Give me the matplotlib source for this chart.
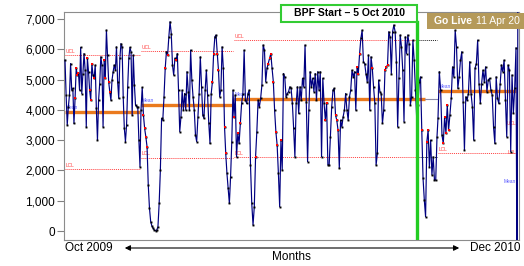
import numpy as np
import matplotlib
matplotlib.use('Agg')
import matplotlib.pyplot as plt
from matplotlib.patches import Rectangle, FancyArrowPatch

plt.rcParams['font.family'] = ['Liberation Sans', 'DejaVu Sans']

# ---------------- data ----------------
phase1 = [5640, 4490, 3500, 4100, 4490, 5530, 4650, 4710, 3550, 4380,
          5370, 5150, 5230, 4650, 6060, 4540, 5200, 5860, 5310, 3440,
          5700, 5260, 4650, 4320, 5530, 5150, 5040, 5480, 4050, 3000,
          4320, 4870, 5750, 5480, 3440, 5640, 5040, 6630, 5810, 4930,
          4600, 4320, 4980, 5260, 5480, 5310, 6080, 4930, 4380, 5700,
          6190, 6080, 4430, 3390, 2950, 3500, 4760, 5700, 6060, 5920,
          3830, 5810, 4820, 4160, 4100, 4100, 3000, 2120]
phase1_red = [9, 10, 11, 12, 20, 22, 23, 24, 26, 35, 36, 39, 40]

phase2 = [3990, 4740, 3830, 3390, 3110, 2780, 1520, 750, 310, 165,
          90, 30, 10, 30, 140, 910, 2010, 3720, 3660, 4430,
          5370, 5920, 5810, 6410, 6910, 6520, 5480, 5150, 5700, 5640,
          5860, 4650, 3280, 3770, 4650, 3990, 4540, 3990, 5260, 4600,
          3990, 5970, 4980, 4430, 3990, 3170, 2950, 3770, 4540, 5750,
          4760, 3830, 3720, 4650, 5310, 4490, 3550, 2890, 4540, 4930,
          5860, 6410, 6470, 5860, 5310, 4430, 4650, 6080, 5370, 3440,
          2560, 1900, 1410, 910, 1790, 2950, 4650]
phase2_red = [2, 3, 4, 5, 20, 22, 29, 59, 60, 63, 64, 69, 70]

phase3 = [3770, 4490, 2450, 3220, 2890, 3550, 4210, 4540, 5970, 4320,
          4210, 4540, 4650, 2180, 910, 200, 800, 2450, 3280, 4320,
          4100, 4380, 4820, 6140, 5970, 4930, 5370, 5530, 5700, 5860,
          5370, 4930, 3990, 3280, 2840, 1900, 800, 3000, 2010, 5200,
          5090, 4430, 4540, 4600, 4760, 4710, 4210, 3390, 2450, 4210,
          4760, 3880, 4760, 4320, 5040, 4760, 6140, 4270, 2290, 3990,
          5260, 4760, 5040, 4600, 5200, 4320, 5260, 4650, 5260, 2450,
          5040, 4210, 3660, 4210, 2180, 2180, 3110, 4100, 4650, 4710,
          3830, 3660, 3330, 2070, 3660, 3440, 3770, 3990, 4540, 3990,
          3660, 4430, 4650, 5310, 5090, 5260, 3990, 5420, 5200, 5860,
          6360, 6630, 5590, 5530, 5200, 4930, 5810, 3990, 5750, 5370,
          4760, 4210, 2180, 2560, 4980, 4600, 4540, 3550, 3990, 5310,
          5420, 5480, 6580, 6410, 5200, 6580, 6800, 6580, 5590, 3440,
          5040, 6470, 6080, 5310, 3610, 6410, 5860, 6470, 6190, 4160,
          4430, 6300, 5640, 4650, 3720, 4160, 4930, 5090, 3330, 1740,
          1020, 470, 2950, 3330, 2120, 3000, 1850, 2450, 1680, 1680,
          3110]
phase3_red = [0, 3, 5, 17, 27, 28, 29, 31, 33, 34, 37, 72, 73, 80, 81, 82,
              97, 98, 99, 109, 119, 120, 121, 148, 152, 153]

phase4 = [3720, 5260, 4650, 3170, 2890, 3770, 3220, 4160, 3330, 3830,
          4380, 5420, 5090, 6630, 6080, 4710, 5090, 5640, 5920, 4270,
          2670, 4430, 4320, 4540, 5590, 4540, 4100, 3000, 5370, 5530,
          6300, 4870, 4210, 4870, 5310, 4930, 5420, 4600, 4980, 5040,
          4650, 4490, 3440, 2890, 5090, 4380, 4210, 4870, 5480, 5260,
          5640, 4320, 3110, 5480, 5310, 2620, 5150, 3880, 4710, 6050]
phase4_red = [4, 5, 6, 7, 8]

tail_values = [-2000, 9000]          # off-scale values at the right edge

phases = [phase1, phase2, phase3, phase4]
phases_red = [phase1_red, phase2_red, phase3_red, phase4_red]
phase_start_day = [0, 76, 169, 373]
phase_end_day = [75, 168, 372, 451]
phase_mean = [3940, 4160, 4370, 4630]
phase_ucl = [5810, 5940, 6300, None]   # last UCL hidden behind the Go Live box
phase_lcl = [2040, 2420, 2450, 2560]
bpf_day = 352
next_labels = [("UCL", 3560), ("LCL", 2600), ("Mean", 1640)]
yticks = [0, 1000, 2000, 3000, 4000, 5000, 6000, 7000]

# ---------------- figure ----------------
W, H = 524, 266
fig = plt.figure(figsize=(W / 100, H / 100), dpi=100)
ax = fig.add_axes([64 / W, 1 - 240 / H, 455 / W, 228 / H])
ax.set_xlim(-1, 454)
ax.set_ylim(-297, 7231)

navy = '#000080'
orange = '#ea7a1e'
redl = '#ff4040'
bluel = '#5a5aff'
dots = (0, (1, 1))

xs, ys, rx, ry = [], [], [], []
for vals, reds, s, e in zip(phases, phases_red, phase_start_day, phase_end_day):
    x = np.linspace(s, e, len(vals))
    xs.append(x)
    ys.append(np.array(vals, dtype=float))
    rx.extend(x[reds])
    ry.extend(np.array(vals)[reds])
xs.append(np.array([phase_end_day[-1] + 1, phase_end_day[-1] + 2]))
ys.append(np.array(tail_values, dtype=float))
X = np.concatenate(xs)
Y = np.concatenate(ys)

# control lines
for i, (s, e, m, u, l) in enumerate(zip(phase_start_day, phase_end_day,
                                         phase_mean, phase_ucl, phase_lcl)):
    if i == 2:
        ax.plot([s, bpf_day + 8], [m, m], color=orange, lw=2.4, zorder=2,
                solid_capstyle='butt')
        ax.plot([bpf_day + 8, e], [m, m], color='#8a8aa8', lw=0.8, zorder=2)
        ax.plot([s, bpf_day], [u, u], color=redl, lw=0.7, ls=dots, zorder=1)
        ax.plot([bpf_day, e], [u, u], color='#222222', lw=0.7, ls=dots, zorder=1)
        ax.plot([s, bpf_day], [l, l], color=redl, lw=0.7, ls=dots, zorder=1)
        ax.plot([bpf_day, e], [l, l], color='#222222', lw=0.7, ls=dots, zorder=1)
    else:
        ax.plot([s, e], [m, m], color=orange, lw=2.4, zorder=2,
                solid_capstyle='butt')
        if u is not None:
            ax.plot([s, e], [u, u], color=redl, lw=0.7, ls=dots, zorder=1)
        ax.plot([s, e], [l, l], color=redl, lw=0.7, ls=dots, zorder=1)
    if u is not None:
        ax.text(s + 1, u + 40, "UCL", color=redl, fontsize=3.5, va='bottom', ha='left', zorder=1)
    ax.text(s + 1, m + 60, "Mean", color=bluel, fontsize=3.5, va='bottom', ha='left', zorder=1)
    ax.text(s + 1, l + 40, "LCL", color=redl, fontsize=3.5, va='bottom', ha='left', zorder=1)

for lab, v in next_labels:
    ax.text(phase_end_day[-1], v, lab, color=bluel if lab == "Mean" else redl,
            fontsize=3.5, va='center', ha='right', zorder=1)

# data line
ax.plot(X, Y, color=navy, lw=0.85, zorder=3)
ax.plot(X, Y, ls='none', marker='s', ms=1.4, mfc='black', mec='black', mew=0, zorder=4)
ax.plot(rx, ry, ls='none', marker='s', ms=2.0, mfc='red', mec='red', mew=0, zorder=5)

# BPF start line
ax.axvline(bpf_day, ymin=0, ymax=(240 - 22) / 228, color='#22cc22', lw=2.4, zorder=6)

ax.set_yticks(yticks)
ax.set_yticklabels([f"{v:,}" for v in yticks], fontsize=8.5)
ax.set_xticks([])
ax.tick_params(axis='y', length=5, width=0.8, color='#808080', pad=1.5)
for sp in ax.spines.values():
    sp.set_color('#8c8c8c')
    sp.set_linewidth(0.8)

# annotation boxes
fig.add_artist(Rectangle((281 / W, 1 - 22 / H), 136 / W, 17 / H,
                         transform=fig.transFigure, facecolor='white',
                         edgecolor='#33cc33', lw=1.5, zorder=10))
fig.text(349 / W, 1 - 13.5 / H, "BPF Start \u2013 5 Oct 2010", fontsize=7.5,
         fontweight='bold', ha='center', va='center', zorder=11)

fig.add_artist(Rectangle((427 / W, 1 - 29 / H), 110 / W, 16 / H,
                         transform=fig.transFigure, facecolor='#b59a5a',
                         edgecolor='none', zorder=10))
fig.text(434 / W, 1 - 21 / H, "Go Live", fontsize=7.5, fontweight='bold',
         color='white', ha='left', va='center', zorder=11)
fig.text(476 / W, 1 - 21 / H, "11 Apr 20", fontsize=7.5,
         color='white', ha='left', va='center', zorder=11)

# x-axis annotations
fig.text(65 / W, 1 - 248 / H, "Oct 2009", fontsize=8.5, ha='left', va='center')
fig.text(520 / W, 1 - 248 / H, "Dec 2010", fontsize=8.5, ha='right', va='center')
fig.text(291 / W, 1 - 257 / H, "Months", fontsize=8.5, ha='center', va='center')
fig.add_artist(FancyArrowPatch((122 / W, 1 - 248 / H), (462 / W, 1 - 248 / H),
                               transform=fig.transFigure, arrowstyle='<|-|>',
                               mutation_scale=8, lw=0.8, color='black'))

fig.savefig('out.png', dpi=100)
